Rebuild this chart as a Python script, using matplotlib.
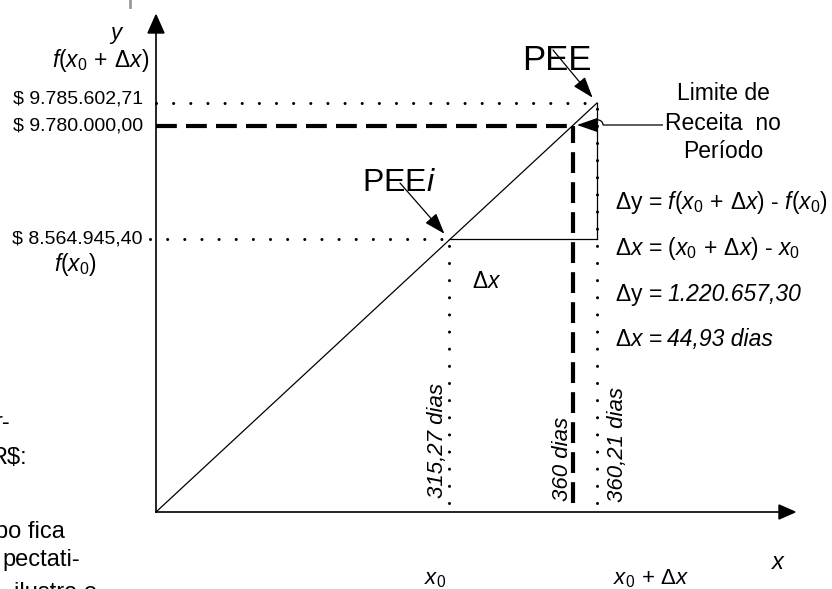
import numpy as np
import matplotlib
matplotlib.use("Agg")
import matplotlib.pyplot as plt
from matplotlib.patches import FancyArrowPatch, PathPatch
from matplotlib.path import Path
from matplotlib.transforms import Affine2D

plt.rcParams["font.family"] = ["Liberation Sans", "DejaVu Sans"]
plt.rcParams["mathtext.fontset"] = "custom"
plt.rcParams["mathtext.rm"] = "Liberation Sans"
plt.rcParams["mathtext.it"] = "Liberation Sans:italic"
plt.rcParams["mathtext.bf"] = "Liberation Sans:bold"

# ---- data ----
revenue = [0.0, 8564945.40, 9780000.00, 9785602.71]    # f(0), f(x0), limite, f(x0+dx)
days = [0.0, 315.27, 360.00, 360.21]                    # 0, x0, periodo, x0+dx
delta_y = 1220657.30
delta_x = 44.93
limit_lines = ["Limite de", "Receita  no", "Período"]
side_text = ["r-", "R$:", "po fica", "pectati-", "ilustra o"]

# ---- schematic layout (pixel positions from top-left, not to scale) ----
W, H = 832, 589
x_pix = [156, 449, 573, 597]      # where days[] sit horizontally
y_pix = [512, 239, 126, 103]      # where revenue[] sit vertically


def piecewise(vals, pix):
    vals = np.asarray(vals, float)
    pix = np.asarray(pix, float)
    s0 = (pix[1] - pix[0]) / (vals[1] - vals[0])
    s1 = (pix[-1] - pix[-2]) / (vals[-1] - vals[-2])
    big = 1e3 * (vals[-1] - vals[0])
    v = np.r_[vals[0] - big, vals, vals[-1] + big]
    p = np.r_[pix[0] - big * s0, pix, pix[-1] + big * s1]
    return (lambda a: np.interp(a, v, p)), (lambda a: np.interp(a, p, v))


def br(v, nd=2):
    return f"{v:,.{nd}f}".replace(",", "X").replace(".", ",").replace("X", ".")


fx, ix = piecewise(days, x_pix)
fy, iy = piecewise(revenue, [H - p for p in y_pix])

fig = plt.figure(figsize=(W / 100, H / 100), dpi=100)
ax = fig.add_axes([0, 0, 1, 1])
ax.set_xscale("function", functions=(fx, ix))
ax.set_yscale("function", functions=(fy, iy))
ax.set_xlim(ix(0), ix(W))
ax.set_ylim(iy(0), iy(H))
ax.axis("off")
pix = Affine2D().scale(1 / W, -1 / H).translate(0, 1) + ax.transAxes

dots = dict(color="black", lw=2.2, linestyle=(0, (0.01, 5.6)), dash_capstyle="round")
dashes = dict(color="black", lw=3.0, linestyle=(0, (5, 2.2)), dash_capstyle="butt")

x0, xlim_d, x1 = days[1], days[2], days[3]
f0, flim, f1 = revenue[1], revenue[2], revenue[3]

# dotted guides
ax.plot([days[0], x1], [f1, f1], **dots)
ax.plot([ix(150), x0], [f0, f0], **dots)
ax.plot([x0, x0], [iy(H - 503), f0], **dots)
ax.plot([x1, x1], [iy(H - 503), f1], **dots)
# dashed limit lines
ax.plot([days[0], xlim_d], [flim, flim], **dashes)
ax.plot([xlim_d, xlim_d], [iy(H - 503), flim], **dashes)
# revenue line and delta legs
ax.plot([days[0], x1], [revenue[0], f1], color="black", lw=0.9)
ax.plot([x0, x1], [f0, f0], color="black", lw=0.9)
ax.plot([x1, x1], [f0, f1], color="black", lw=0.9)

# axes with arrowheads
ax.plot([156, 156], [512, 30], color="black", lw=1.2, transform=pix)
ax.plot([156, 782], [512, 512], color="black", lw=1.2, transform=pix)
ax.fill([148, 164, 156], [33, 33, 15], color="black", transform=pix)
ax.fill([779, 779, 795], [505, 519, 512], color="black", transform=pix)
ax.plot([130, 130], [0, 7], color="#9a9a9a", lw=2, transform=pix)

arrow_kw = dict(arrowstyle="-|>,head_length=13,head_width=4.5", color="black",
                lw=0.9, shrinkA=0, mutation_scale=1)
ax.annotate("", xy=(x1, f1), xytext=(553, 50), textcoords=pix,
            arrowprops=dict(shrinkB=5, **arrow_kw))
ax.annotate("", xy=(x0, f0), xytext=(400, 183), textcoords=pix,
            arrowprops=dict(shrinkB=5, **arrow_kw))
# "Limite" pointer with a small bridge over the dotted line
bridge = Path([(663, 125), (603, 125), (603, 118), (591, 118), (591, 125), (590, 125)],
              [Path.MOVETO, Path.LINETO, Path.CURVE4, Path.CURVE4, Path.CURVE4, Path.LINETO])
ax.add_patch(PathPatch(bridge, fill=False, lw=0.9, color="black", transform=pix))
ax.add_patch(FancyArrowPatch((592, 125), (577, 125), transform=pix, shrinkB=0,
                             **arrow_kw))

txt = dict(transform=pix, color="black")
renderer = fig.canvas.get_renderer()


def two_part(x, y, head, tail, size):
    """upright head followed by an italic tail on the same baseline"""
    t = ax.text(x, y, head, fontsize=size, ha="left", va="baseline", **txt)
    w = t.get_window_extent(renderer).width
    ax.text(x + w + 0.3 * size, y, tail, fontsize=size, ha="left", va="baseline",
            style="italic", **txt)


# y-axis labels
ax.text(117, 35, "$y$", fontsize=16, ha="center", va="center", **txt)
ax.text(149, 60, r"$f(x_0\,+\,\Delta x)$", fontsize=16.5, ha="right", va="center", **txt)
for v, yp in zip(revenue[1:], y_pix[1:]):
    ax.text(143, yp - (4 if yp < 110 else 0), "$ " + br(v), fontsize=14,
            ha="right", va="center", **txt)
ax.text(97, 265, r"$f(x_0)$", fontsize=16.5, ha="right", va="center", **txt)

# points
ax.text(557, 60, "PEE", fontsize=25, ha="center", va="center", **txt)
ax.text(436, 183, r"PEE$i$", fontsize=23, ha="right", va="center", **txt)
for s, yp in zip(limit_lines, [93, 123, 152]):
    ax.text(723, yp, s, fontsize=16.5, ha="center", va="center", **txt)

eq_size = 16.5
ax.text(615, 202, r"$\Delta$y = $f(x_0\,+\,\Delta x)$ - $f(x_0)$", fontsize=eq_size,
        ha="left", va="center", **txt)
ax.text(615, 248, r"$\Delta x$ = $(x_0\,+\,\Delta x)$ - $x_0$", fontsize=eq_size,
        ha="left", va="center", **txt)
two_part(615, 301, r"$\Delta$y =", br(delta_y), eq_size)
two_part(615, 346, r"$\Delta x$ =", br(delta_x) + " dias", eq_size)
ax.text(487, 282, r"$\Delta x$", fontsize=16.5, ha="center", va="center", **txt)

# day labels (rotated)
for d, xp, yp, nd in zip(days[1:], [438, 562, 618], [441, 459, 445], [2, 0, 2]):
    ax.text(xp, yp, br(d, nd) + " dias", fontsize=16, style="italic", rotation=90,
            ha="center", va="center", **txt)

# x-axis labels
ax.text(779, 563, "$x$", fontsize=17, ha="center", va="center", **txt)
ax.text(435, 579, "$x_0$", fontsize=16, ha="center", va="center", **txt)
ax.text(613, 579, r"$x_0\,+\,\Delta x$", fontsize=16, ha="left", va="center", **txt)

# clipped body text on the left edge (cut by the page edge in the source)
for s, xr, yp in zip(side_text, [10, 27, 65, 80, 97], [423, 458, 532, 560, 593]):
    ax.text(xr, yp, s, fontsize=17, ha="right", va="center", **txt)

fig.savefig("out.png", dpi=100)
